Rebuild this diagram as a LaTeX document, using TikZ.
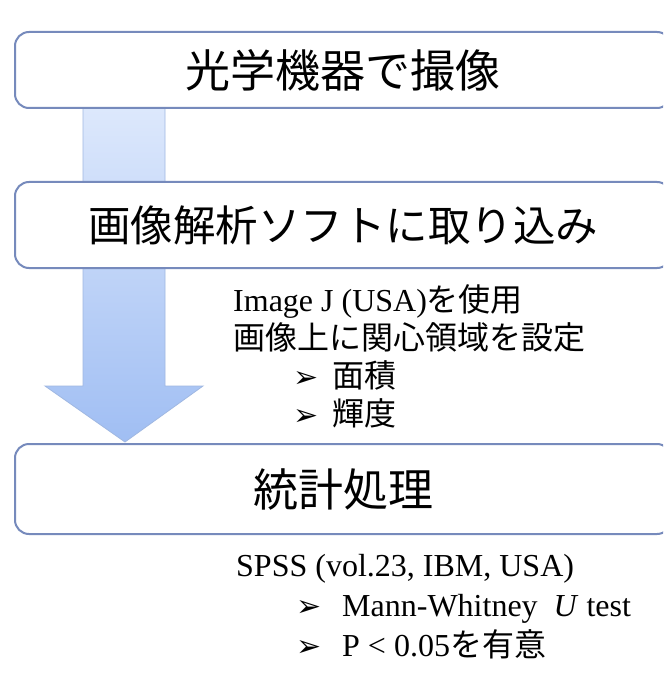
\documentclass[tikz,border=0pt]{standalone}
\usepackage{fontspec}
\setmainfont{Liberation Serif}
\newfontfamily\jp{Noto Sans CJK JP}
\newfontfamily\symf{DejaVu Sans}
\definecolor{boxline}{RGB}{118,138,188}
\definecolor{boxfill}{RGB}{255,255,255}
\definecolor{arrtop}{RGB}{222,233,252}
\definecolor{arrbot}{RGB}{160,190,243}
\definecolor{arrline}{RGB}{160,184,226}
\tikzset{
  stage/.style={draw=boxline, line width=2pt, fill=boxfill, rounded corners=14pt,
    minimum width=656pt, inner sep=0pt, text=black},
  note/.style={anchor=base west, inner sep=0pt, text=black},
  bulletmark/.style={anchor=base west, inner sep=0pt, text=black},
}
\newcommand{\notesize}{\fontsize{32}{38}\selectfont}
\newcommand{\bul}{\symf\fontsize{30}{34}\selectfont ➢}
\begin{document}
\begin{tikzpicture}[x=1pt,y=-1pt]
\useasboundingbox (0,0) rectangle (663,692);
\clip (0,0) rectangle (663,692);
\fill[white] (0,0) rectangle (663,692);
% big arrow
\shade[top color=arrtop, bottom color=arrbot, draw=arrline, line width=0.8pt]
  (83,100) -- (165,100) -- (165,386) -- (203,386) -- (125,442) -- (45,386) -- (83,386) -- cycle;
% stages
\node[stage, minimum height=76pt] (s1) at (343,70)
  {\jp\fontsize{45}{54}\selectfont 光学機器で撮像};
\node[stage, minimum height=86pt] (s2) at (343,225)
  {\jp\fontsize{42.5}{50}\selectfont 画像解析ソフトに取り込み};
\node[stage, minimum height=90pt] (s3) at (343,489)
  {\jp\fontsize{45}{54}\selectfont 統計処理};
% notes after stage 2
\node[note] (n1) at (233,311) {\notesize Image J (USA){\jp を使用}};
\node[note] (n2) at (233,349) {\notesize\jp 画像上に関心領域を設定};
\node[bulletmark] (b1) at (293,387) {\bul};
\node[note] (n3) at (332,387) {\notesize\jp 面積};
\node[bulletmark] (b2) at (293,425) {\bul};
\node[note] (n4) at (332,425) {\notesize\jp 輝度};
% notes after stage 3
\node[note] (m1) at (236,576) {\notesize SPSS (vol.23, IBM, USA)};
\node[bulletmark] (b3) at (296,616) {\bul};
\node[note] (m2) at (342,616) {\notesize Mann-Whitney\hspace{0.5em}\textit{U} test};
\node[bulletmark] (b4) at (296,656) {\bul};
\node[note] (m3) at (342,656) {\notesize P < 0.05{\jp を有意}};
\end{tikzpicture}
\end{document}
